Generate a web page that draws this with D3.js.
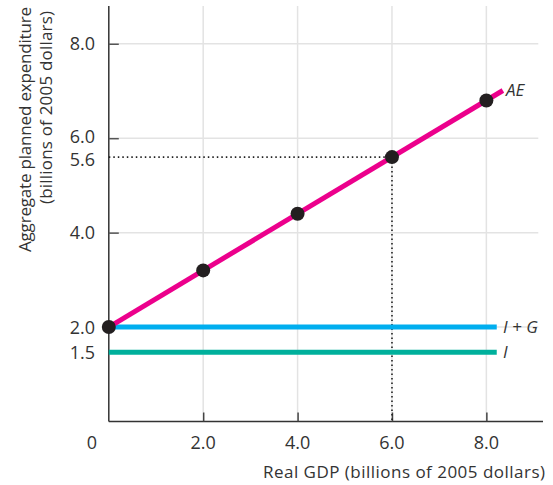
<!DOCTYPE html>
<html><head><meta charset="utf-8">
<script src="https://cdn.jsdelivr.net/npm/d3@7"></script>
<style>body{margin:0;background:#fff}svg{display:block}text{font-family:"Open Sans",sans-serif;fill:#333}</style>
</head><body><svg id="c" width="553" height="485"></svg>
<script>
const xTicks = [2, 4, 6, 8];
const xTickLabels = ["2.0", "4.0", "6.0", "8.0"];
const yTicks = [1.5, 2, 4, 5.6, 6, 8];
const yTickLabels = ["1.5", "2.0", "4.0", "5.6", "6.0", "8.0"];
const yGrid = [2, 4, 6, 8];
const aeX = [0, 2, 4, 6, 8];
const aeY = [2.0, 3.2, 4.4, 5.6, 6.8];
const aeLineX = [0, 8.35];
const aeLineY = [2.0, 7.01];
const igLevel = 2.0;
const iLevel = 1.5;
const lineEndX = 8.22;
const eqX = 6, eqY = 5.6;

const svg = d3.select("#c");
const x = d3.scaleLinear().domain([0, 9.2]).range([108.8, 543]);
const y = d3.scaleLinear().domain([0, 8.8]).range([421.5, 6]);

// grid
svg.append("g").selectAll("line").data(xTicks).join("line")
  .attr("x1", d => x(d)).attr("x2", d => x(d)).attr("y1", y(0)).attr("y2", y(8.8))
  .attr("stroke", "#e3e3e3").attr("stroke-width", 1.5);
svg.append("g").selectAll("line").data(yGrid).join("line")
  .attr("x1", x(0)).attr("x2", x(9.1)).attr("y1", d => y(d)).attr("y2", d => y(d))
  .attr("stroke", "#e3e3e3").attr("stroke-width", 1.5);

// axes
const xAxis = d3.axisBottom(x).tickValues(xTicks).tickSize(-9).tickFormat("");
const gx = svg.append("g").attr("transform", `translate(0,${y(0)})`).call(xAxis);
gx.select(".domain").attr("stroke", "#333").attr("stroke-width", 1.5).attr("d", `M${x(0)},0H${x(9.2)}`);
gx.selectAll(".tick line").attr("stroke", "#444").attr("stroke-width", 1.5);
const yAxis = d3.axisLeft(y).tickValues([4, 6, 8]).tickSize(-10).tickFormat("");
const gy = svg.append("g").attr("transform", `translate(${x(0)},0)`).call(yAxis);
gy.select(".domain").attr("stroke", "#333").attr("stroke-width", 1.5).attr("d", `M0,${y(0)}V${y(8.8)}`);
gy.selectAll(".tick line").attr("stroke", "#555").attr("stroke-width", 1.5);

// tick labels
svg.append("g").selectAll("text").data(xTicks).join("text")
  .attr("x", d => x(d)).attr("y", 449).attr("text-anchor", "middle")
  .attr("font-size", 18).text((d, i) => xTickLabels[i]);
svg.append("text").attr("x", 97).attr("y", 449).attr("text-anchor", "end").attr("font-size", 18).text("0");
svg.append("g").selectAll("text").data(yTicks).join("text")
  .attr("x", 95).attr("y", d => y(d) + (d === 5.6 ? 8.5 : d === 6 ? 5 : d === 1.5 ? 8 : 6.5)).attr("text-anchor", "end")
  .attr("font-size", 18).text((d, i) => yTickLabels[i]);

// dotted
svg.append("path")
  .attr("d", `M${x(0)},${y(eqY)}H${x(eqX)}V${y(0)}`)
  .attr("fill", "none").attr("stroke", "#222").attr("stroke-width", 1.6).attr("stroke-dasharray", "1.5,3");

// lines
svg.append("line").attr("x1", x(0)).attr("x2", x(lineEndX)).attr("y1", y(iLevel) + 1.5).attr("y2", y(iLevel) + 1.5)
  .attr("stroke", "#00b09c").attr("stroke-width", 5);
svg.append("line").attr("x1", x(0)).attr("x2", x(lineEndX)).attr("y1", y(igLevel)).attr("y2", y(igLevel))
  .attr("stroke", "#00aeef").attr("stroke-width", 5);
svg.append("path").datum(aeLineX.map((d, i) => [d, aeLineY[i]]))
  .attr("d", d3.line().x(d => x(d[0])).y(d => y(d[1])))
  .attr("stroke", "#ec008c").attr("stroke-width", 5).attr("fill", "none");
svg.append("g").selectAll("circle").data(aeX).join("circle")
  .attr("cx", d => x(d)).attr("cy", (d, i) => y(aeY[i])).attr("r", 7).attr("fill", "#231f20");

// labels
svg.append("text").attr("x", 506).attr("y", y(7.01) + 5).attr("font-size", 17).attr("font-style", "italic").text("AE");
svg.append("text").attr("x", 503).attr("y", y(igLevel) + 6).attr("font-size", 17).attr("font-style", "italic").text("I + G");
svg.append("text").attr("x", 503).attr("y", y(iLevel) + 7.5).attr("font-size", 17).attr("font-style", "italic").text("I");

svg.append("text").attr("x", 545).attr("y", 478).attr("text-anchor", "end").attr("font-size", 17)
  .attr("textLength", 282).attr("lengthAdjust", "spacing")
  .text("Real GDP (billions of 2005 dollars)");
const yt = svg.append("text").attr("transform", "rotate(-90)").attr("text-anchor", "end").attr("font-size", 17);
yt.append("tspan").attr("x", -7).attr("y", 31).attr("textLength", 245).attr("lengthAdjust", "spacing").text("Aggregate planned expenditure");
yt.append("tspan").attr("x", -11).attr("y", 52).attr("textLength", 193).attr("lengthAdjust", "spacing").text("(billions of 2005 dollars)");
</script></body></html>
